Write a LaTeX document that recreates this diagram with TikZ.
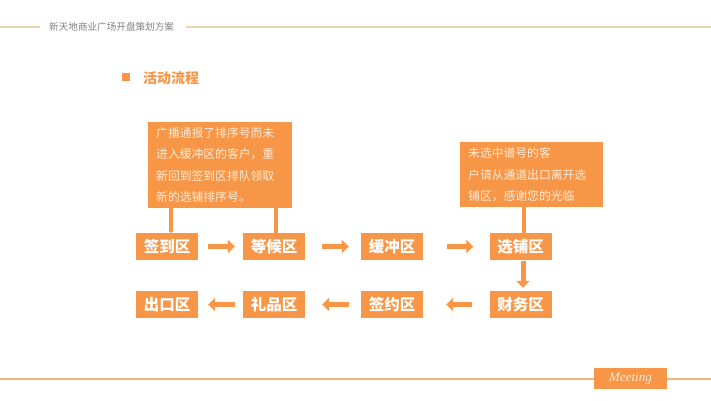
\documentclass[tikz,border=0pt]{standalone}
\usepackage{fontspec}
\setmainfont{Noto Sans CJK SC}
\newfontfamily\logofont{Liberation Serif}
\usetikzlibrary{arrows.meta}
\usetikzlibrary{positioning}
\definecolor{boxorange}{HTML}{F79646}
\definecolor{headtan}{HTML}{EBD5AE}
\definecolor{footorange}{HTML}{F5B67E}
\definecolor{notetext}{HTML}{FDEBD9}
\tikzset{
    areabox/.style={fill=boxorange, text=white, minimum width=62pt, minimum height=27pt, inner sep=0pt, font=\fontsize{15.5}{15.5}\selectfont\bfseries},
    notebox/.style={fill=boxorange, text=notetext, anchor=north west, inner xsep=8pt, inner ysep=0pt, align=left, font=\fontsize{11.8}{21.5}\selectfont},
    flow/.style={draw=boxorange, line width=5pt, -{Triangle[length=7pt, width=13pt]}},
    notelink/.style={draw=boxorange, line width=3.5pt}
}

\begin{document}
\begin{tikzpicture}[x=1pt, y=-1pt]
    \useasboundingbox (0,0) rectangle (711,400);

    % page header
    \node[text=gray, anchor=west, inner sep=0pt, font=\fontsize{9.6}{9.6}\selectfont] (header) at (49,27) {新天地商业广场开盘策划方案};
    \coordinate (headl) at (0,27);
    \coordinate (headr) at (711,27);
    \draw[draw=headtan, line width=1.2pt] (headl) -- ([xshift=-9pt]header.west);
    \draw[draw=headtan, line width=1.2pt] ([xshift=12pt]header.east) -- (headr);

    % title
    \node[fill=boxorange, minimum size=8pt, inner sep=0pt] (bullet) at (126,77) {};
    \node[text=boxorange, anchor=west, inner sep=0pt, font=\fontsize{14}{14}\selectfont\bfseries] (title) at (143,78) {活动流程};

    % notes
    \node[notebox, minimum height=86pt, text width=128pt] (note1) at (148,122) {广播通报了排序号而未\\进入缓冲区的客户，重\\新回到签到区排队领取\\新的选铺排序号。};
    \node[notebox, minimum height=65pt, text width=127pt] (note2) at (460,142) {未选中谱号的客\\户请从通道出口离开选\\铺区，感谢您的光临};

    % upper row
    \node[areabox] (signin) at (167,246.5) {签到区};
    \node[areabox] (waiting) at (274,246.5) {等候区};
    \node[areabox] (buffer) at (392,246.5) {缓冲区};
    \node[areabox] (choose) at (520.5,246.5) {选铺区};

    % lower row
    \node[areabox] (exit) at (167,304.5) {出口区};
    \node[areabox] (gift) at (274,304.5) {礼品区};
    \node[areabox] (contract) at (392,304.5) {签约区};
    \node[areabox] (finance) at (520.5,304.5) {财务区};

    \draw[flow, shorten <=10pt, shorten >=8pt] (signin) -- (waiting);
    \draw[flow, shorten <=17pt, shorten >=12pt] (waiting) -- (buffer);
    \draw[flow, shorten <=24pt, shorten >=16pt] (buffer) -- (choose);
    \draw[flow, shorten <=1pt, shorten >=3pt] ([xshift=2.5pt]choose.south) -- ([xshift=2.5pt]finance.north);
    \draw[flow, shorten <=17pt, shorten >=23pt] (finance) -- (contract);
    \draw[flow, shorten <=12pt, shorten >=17pt] (contract) -- (gift);
    \draw[flow, shorten <=8pt, shorten >=10pt] (gift) -- (exit);

    \draw[notelink, -{Triangle[length=2pt, width=5pt]}] ([xshift=4pt]signin.north |- note1.south) -- ([xshift=4pt]signin.north);
    \draw[notelink] ([xshift=2pt]waiting.north |- note1.south) -- ([xshift=2pt]waiting.north);
    \draw[notelink] ([xshift=3.5pt]choose.north |- note2.south) -- ([xshift=3.5pt]choose.north);

    % footer
    \node[fill=boxorange, minimum width=73pt, minimum height=21pt, inner sep=0pt, text=notetext, font=\fontsize{13}{13}\logofont\itshape] (logo) at (630.5,378.5) {Meeting};
    \coordinate (footl) at (0,379);
    \coordinate (footr) at (711,379);
    \draw[draw=footorange, line width=1.2pt] (footl) -- (logo.west |- footl);
    \draw[draw=footorange, line width=1.2pt] (logo.east |- footr) -- (footr);
\end{tikzpicture}
\end{document}
